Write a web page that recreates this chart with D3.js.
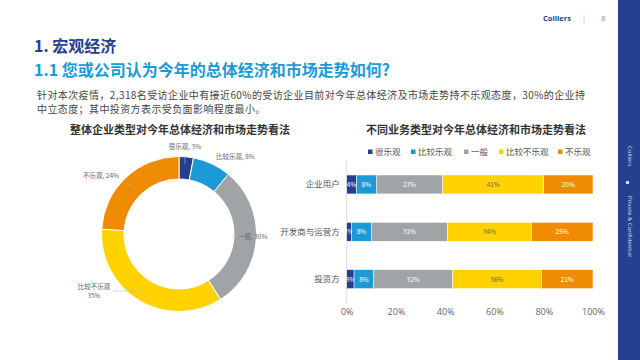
<!DOCTYPE html>
<html>
<head>
<meta charset="utf-8">
<script src="https://cdn.jsdelivr.net/npm/d3@7/dist/d3.min.js"></script>
<style>
html,body{margin:0;padding:0;background:#fff;}
svg{display:block;font-family:"Noto Sans CJK SC","Noto Sans",sans-serif;}
</style>
</head>
<body>
<svg id="c" width="640" height="360"></svg>
<script>
// ---- data ----
const levels = ["很乐观", "比较乐观", "一般", "比较不乐观", "不乐观"];
const overallValues = [3, 8, 30, 35, 24];
const groups = ["企业用户", "开发商与运营方", "投资方"];
const groupVeryOpt = [4, 2, 3];
const groupOpt = [8, 8, 8];
const groupNeutral = [27, 31, 32];
const groupPess = [41, 34, 36];
const groupVeryPess = [20, 25, 21];
const xTicks = [0, 20, 40, 60, 80, 100];
const colors = ["#243f8f", "#1b9ad6", "#a1a4a6", "#ffd200", "#ee8b00"];

const svg = d3.select("#c");

// ---- page furniture ----
svg.append("rect").attr("x", 618).attr("y", 0).attr("width", 22).attr("height", 360).attr("fill", "#25408f");
const side = svg.append("g").attr("transform", "translate(628,0)");
side.append("text").attr("transform", "translate(0,146) rotate(90)").attr("font-size", 6).attr("fill", "#d8def0")
  .attr("font-family", "Open Sans, sans-serif").text("Colliers");
side.append("rect").attr("x", -2).attr("y", 181).attr("width", 3).attr("height", 3).attr("fill", "#d8def0");
side.append("text").attr("transform", "translate(0,196) rotate(90)").attr("font-size", 6).attr("fill", "#d8def0")
  .attr("font-family", "Open Sans, sans-serif").text("Private & Confidential");

svg.append("text").attr("x", 543).attr("y", 21).attr("font-size", 7.5).attr("font-weight", "bold")
  .attr("fill", "#25408f").attr("font-family", "Open Sans, sans-serif").text("Colliers");
svg.append("text").attr("x", 583).attr("y", 21).attr("font-size", 7.5).attr("fill", "#aaa").text("|");
svg.append("text").attr("x", 601).attr("y", 21).attr("font-size", 7.5).attr("fill", "#888")
  .attr("font-family", "Open Sans, sans-serif").text("8");

svg.append("text").attr("x", 34).attr("y", 52).attr("font-size", 16).attr("font-weight", "bold")
  .attr("fill", "#25408f").text("1. 宏观经济");
svg.append("text").attr("x", 34).attr("y", 76).attr("font-size", 16).attr("font-weight", "bold")
  .attr("fill", "#1b9ad6").text("1.1 您或公司认为今年的总体经济和市场走势如何?");
svg.append("text").attr("x", 37).attr("y", 98.5).attr("font-size", 10).attr("letter-spacing", 0.4).attr("fill", "#444")
  .text("针对本次疫情，2,318名受访企业中有接近60%的受访企业目前对今年总体经济及市场走势持不乐观态度，30%的企业持");
svg.append("text").attr("x", 37).attr("y", 113).attr("font-size", 10).attr("letter-spacing", 0.4).attr("fill", "#444")
  .text("中立态度；其中投资方表示受负面影响程度最小。");

// ---- donut ----
svg.append("text").attr("x", 180).attr("y", 134).attr("text-anchor", "middle").attr("font-size", 11)
  .attr("font-weight", "bold").attr("fill", "#333").text("整体企业类型对今年总体经济和市场走势看法");

const cx = 179, cy = 234, rO = 77.5, rI = 55;
const pie = d3.pie().sort(null).value(d => d.v);
const arcs = pie(levels.map((l, i) => ({ l, v: overallValues[i], c: colors[i] })));
const arc = d3.arc().innerRadius(rI).outerRadius(rO);
const dg = svg.append("g").attr("transform", `translate(${cx},${cy})`);
dg.selectAll("path").data(arcs).join("path").attr("d", arc).attr("fill", d => d.data.c)
  .attr("stroke", "#fff").attr("stroke-width", 1);

// label positions (relative to centre)
const lbl = [
  { dx: 6, dy: -85, anchor: "middle", lines: ["很乐观, 3%"], line: [[6, -78], [6, -70]] },
  { dx: 37, dy: -75, anchor: "start", lines: ["比较乐观, 8%"], line: null },
  { dx: 59, dy: 5, anchor: "start", lines: ["一般, 30%"], line: [[54, 2], [59, 2]] },
  { dx: -85, dy: 55, anchor: "middle", lines: ["比较不乐观", "35%"], line: [[-66, 57], [-37, 57]] },
  { dx: -60, dy: -56, anchor: "end", lines: ["不乐观, 24%"], line: [[-53, -51], [-45, -47]] }
];
lbl.forEach((L, i) => {
  if (L.line) dg.append("line").attr("x1", L.line[0][0]).attr("y1", L.line[0][1]).attr("x2", L.line[1][0]).attr("y2", L.line[1][1])
    .attr("stroke", "#bbb").attr("stroke-width", 0.6);
  const t = dg.append("text").attr("x", L.dx).attr("y", L.dy).attr("text-anchor", L.anchor)
    .attr("font-size", 6.5).attr("fill", "#666");
  L.lines.forEach((s, j) => t.append("tspan").attr("x", L.dx).attr("dy", j ? 9 : 0).text(s));
});

// ---- stacked bars ----
svg.append("text").attr("x", 476).attr("y", 134).attr("text-anchor", "middle").attr("font-size", 11)
  .attr("font-weight", "bold").attr("fill", "#333").text("不同业务类型对今年总体经济和市场走势看法");

const legX = [368, 411, 464, 499, 558];
const lg = svg.append("g");
levels.forEach((l, i) => {
  lg.append("rect").attr("x", legX[i]).attr("y", 149.5).attr("width", 4.5).attr("height", 4.5).attr("fill", colors[i]);
  lg.append("text").attr("x", legX[i] + 7).attr("y", 155).attr("font-size", 8.5).attr("fill", "#555").text(l);
});

const x = d3.scaleLinear().domain([0, 100]).range([346.7, 593]);
const y = d3.scaleBand().domain(groups).range([160.8, 302.8]).paddingInner(0.6).paddingOuter(0.3);
const seriesArrays = [groupVeryOpt, groupOpt, groupNeutral, groupPess, groupVeryPess];
const table = groups.map((g, gi) => {
  const o = { g };
  levels.forEach((l, li) => o[l] = seriesArrays[li][gi]);
  return o;
});
const stacked = d3.stack().keys(levels)(table);

svg.append("line").attr("x1", x(0)).attr("x2", x(0)).attr("y1", 161).attr("y2", 303)
  .attr("stroke", "#ddd").attr("stroke-width", 1);

const bg = svg.append("g");
stacked.forEach((s, li) => {
  const gg = bg.append("g");
  gg.selectAll("rect").data(s).join("rect")
    .attr("x", d => x(d[0])).attr("width", d => x(d[1]) - x(d[0]))
    .attr("y", d => y(d.data.g)).attr("height", y.bandwidth())
    .attr("fill", colors[li]).attr("stroke", "#fff").attr("stroke-width", 0.5);
  gg.selectAll("text").data(s).join("text")
    .attr("x", d => (x(d[0]) + x(d[1])) / 2).attr("y", d => y(d.data.g) + y.bandwidth() / 2 + 2.4)
    .attr("text-anchor", "middle").attr("font-size", 6.5)
    .attr("fill", li === 3 ? "#666" : "#fff")
    .text(d => (d[1] - d[0]) + "%");
});

// category labels
const yAxis = d3.axisLeft(y).tickSize(0).tickPadding(7);
const ya = svg.append("g").attr("transform", `translate(${x(0)},0)`).call(yAxis);
ya.select(".domain").remove();
ya.selectAll("text").attr("font-size", 8.5).attr("fill", "#555").attr("font-family", "Noto Sans CJK SC, sans-serif");

// x axis ticks
const xAxis = d3.axisBottom(x).tickValues(xTicks).tickSize(0).tickPadding(0).tickFormat(d => d + "%");
const xa = svg.append("g").attr("transform", "translate(0,309)").call(xAxis);
xa.select(".domain").remove();
xa.selectAll("text").attr("font-size", 9).attr("fill", "#666").attr("font-family", "Open Sans, sans-serif");
</script>
</body>
</html>
